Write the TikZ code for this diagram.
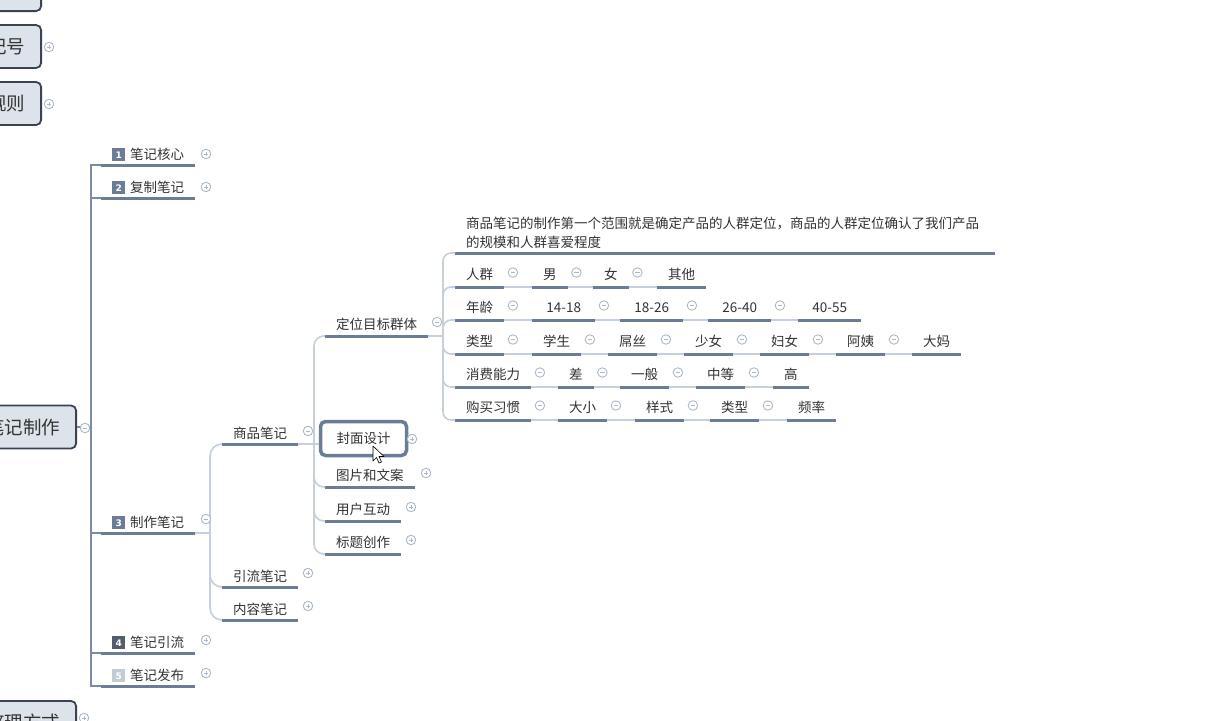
\documentclass[tikz,border=0pt]{standalone}
\usepackage{fontspec}
\setmainfont{Noto Sans CJK SC}
\newfontfamily\numfont{DejaVu Sans}
\usetikzlibrary{calc}

\definecolor{txt}{HTML}{333333}
\definecolor{ulinec}{HTML}{6B7D96}
\definecolor{connc}{HTML}{C6CFDB}
\definecolor{trunkc}{HTML}{7D8BA0}
\definecolor{knobc}{HTML}{AEB9C8}
\definecolor{boxfill}{HTML}{DDE3EA}
\definecolor{boxedge}{HTML}{3B4252}
\definecolor{badgeA}{HTML}{6B7D96}
\definecolor{badgeB}{HTML}{525E6E}
\definecolor{badgeC}{HTML}{C3CBD5}

% numbered square badge in front of a first-level topic
\newcommand\numbadge[2]{\raisebox{-1.5pt}{\setlength{\fboxsep}{0pt}\colorbox{#1}{\makebox[13pt][c]{\rule{0pt}{13pt}\raisebox{2.5pt}{\color{white}\numfont\fontsize{9}{9}\selectfont\bfseries #2}}}}}

\tikzset{
  x=1pt, y=-1pt,
  ulinestyle/.style={draw=ulinec, line width=3pt},
  topic/.style={font=\fontsize{13.5}{19}\selectfont, text=txt, inner xsep=11pt,
    inner ysep=4.5pt, text height=10pt, text depth=3pt, anchor=south west,
    append after command={(\tikzlastnode.south west) edge[ulinestyle] (\tikzlastnode.south east)}},
  upper/.style={topic, inner ysep=2pt},
  middle/.style={topic, inner ysep=3.5pt},
  numtopic/.style={topic, minimum width=63pt},
  note/.style={font=\fontsize{13.5}{19}\selectfont, text=txt, inner xsep=11pt,
    inner ysep=4pt, anchor=south west, text width=518pt, align=left,
    append after command={(\tikzlastnode.south west) edge[ulinestyle] (\tikzlastnode.south east)}},
  conn/.style={draw=connc, line width=1.6pt},
  trunkline/.style={draw=trunkc, line width=1.3pt},
  leftbox/.style={draw=boxedge, line width=1.8pt, fill=boxfill, rounded corners=5pt,
    font=\fontsize{18.5}{22}\selectfont, text=txt, inner xsep=16pt, minimum height=43pt, anchor=east},
  selbox/.style={draw=ulinec, line width=3.5pt, fill=white, rounded corners=5pt,
    font=\fontsize{13.5}{19}\selectfont, text=txt, minimum width=86pt, minimum height=34pt},
  knob/.style={circle, draw=knobc, fill=white, minimum size=9.5pt, inner sep=0pt, line width=0.9pt},
  knobminus/.style={knob, path picture={\draw[draw=knobc, line width=0.9pt]
    ([xshift=-2.4pt]path picture bounding box.center) -- ([xshift=2.4pt]path picture bounding box.center);}},
  knobplus/.style={knob, path picture={\draw[draw=knobc, line width=0.9pt]
    ([xshift=-2.4pt]path picture bounding box.center) -- ([xshift=2.4pt]path picture bounding box.center)
    ([yshift=-2.4pt]path picture bounding box.center) -- ([yshift=2.4pt]path picture bounding box.center);}},
}

\begin{document}
\begin{tikzpicture}
\useasboundingbox (0,0) rectangle (1230,720);
\clip (0,0) rectangle (1230,720);
\fill[white] (0,0) rectangle (1230,720);

% ---- boxes on the far left ----
\node[leftbox, anchor=south east, minimum width=90pt] (topbox) at (42,12) {};
\node[leftbox] (jh) at (42,46.5) {记号};
\node[leftbox] (gz) at (42,103.5) {规则};
\node[leftbox] (root) at (77,427) {笔记制作};
\node[leftbox] (zl) at (77,722.5) {整理方式};

% ---- first level ----
\node[upper] (c1) at (101,165) {\numbadge{badgeA}{1}\hspace{5pt}笔记核心};
\node[upper] (c2) at (101,198) {\numbadge{badgeA}{2}\hspace{5pt}复制笔记};
\node[upper] (c3) at (101,533) {\numbadge{badgeA}{3}\hspace{5pt}制作笔记};
\node[upper] (c4) at (101,653) {\numbadge{badgeB}{4}\hspace{5pt}笔记引流};
\node[upper] (c5) at (101,686) {\numbadge{badgeC}{5}\hspace{5pt}笔记发布};

\coordinate (t1) at (91,427);
\draw[trunkline] (root.east) -- (t1);
\foreach \n in {c1,c2,c3,c4,c5}
  \draw[trunkline] (t1) -- (t1 |- \n.south west) -- (\n.south west);

% ---- second level ----
\node[upper] (s1) at (222,444) {商品笔记};
\node[upper] (s2) at (222,587) {引流笔记};
\node[upper] (s3) at (222,620) {内容笔记};

\coordinate (t2) at (210,533);
\draw[conn] (c3.south east) -- (t2);
\foreach \n in {s1,s2,s3}
  \draw[conn, rounded corners=12pt] (t2) -- (t2 |- \n.south west) -- (\n.south west);

% ---- third level ----
\node[middle] (g1) at (325,336) {定位目标群体};
\node[selbox] (g2) at (363.5,438.5) {封面设计};
\node[middle] (g3) at (325,487) {图片和文案};
\node[middle] (g4) at (325,521) {用户互动};
\node[middle] (g5) at (325,554) {标题创作};

\coordinate (t3) at (314,444);
\draw[conn] (s1.south east) -- (t3);
\foreach \n in {g1,g3,g4,g5}
  \draw[conn, rounded corners=10pt] (t3) -- (t3 |- \n.south west) -- (\n.south west);
\draw[conn] (t3) -- (g2.west |- t3);

% ---- fourth level ----
\node[note] (d0) at (455,253) {商品笔记的制作第一个范围就是确定产品的人群定位，商品的人群定位确认了我们产品\\的规模和人群喜爱程度};

\node[topic] (a1) at (455,287) {人群};
\node[topic] (a2) at (532,287) {男};
\node[topic] (a3) at (593,287) {女};
\node[topic] (a4) at (657,287) {其他};

\node[topic] (b1) at (455,320) {年龄};
\node[numtopic] (b2) at (532,320) {14-18};
\node[numtopic] (b3) at (620,320) {18-26};
\node[numtopic] (b4) at (708,320) {26-40};
\node[numtopic] (b5) at (798,320) {40-55};

\node[topic] (e1) at (455,354) {类型};
\node[topic] (e2) at (532,354) {学生};
\node[topic] (e3) at (608,354) {屌丝};
\node[topic] (e4) at (684,354) {少女};
\node[topic] (e5) at (760,354) {妇女};
\node[topic] (e6) at (836,354) {阿姨};
\node[topic] (e7) at (912,354) {大妈};

\node[topic] (f1) at (455,387) {消费能力};
\node[topic] (f2) at (558,387) {差};
\node[topic] (f3) at (620,387) {一般};
\node[topic] (f4) at (696,387) {中等};
\node[topic] (f5) at (773,387) {高};

\node[topic] (h1) at (455,420) {购买习惯};
\node[topic] (h2) at (558,420) {大小};
\node[topic] (h3) at (635,420) {样式};
\node[topic] (h4) at (710,420) {类型};
\node[topic] (h5) at (787,420) {频率};

\coordinate (t4) at (443,336);
\draw[conn] (g1.south east) -- (t4);
\foreach \n in {d0,a1,b1,e1,f1,h1}
  \draw[conn, rounded corners=8pt] (t4) -- (t4 |- \n.south west) -- (\n.south west);

% links along each row, with a collapse knob after every item
\foreach \p/\q in {a1/a2,a2/a3,a3/a4,b1/b2,b2/b3,b3/b4,b4/b5,
                   e1/e2,e2/e3,e3/e4,e4/e5,e5/e6,e6/e7,
                   f1/f2,f2/f3,f3/f4,f4/f5,h1/h2,h2/h3,h3/h4,h4/h5}{
  \draw[conn, line width=1.3pt] (\p.south east) -- (\q.south west);
  \node[knobminus] (k\p) at ($(\p.south east)+(8.5,-14.5)$) {};
}

% ---- knobs of the tree ----
\node[knobplus] (kjh) at (49,47) {};
\node[knobplus] (kgz) at (49,104) {};
\node[knobminus] (kroot) at (85,428) {};
\node[knobplus] (kzl) at (84,718) {};
\node[knobplus] (kc1) at (206,154) {};
\node[knobplus] (kc2) at (206,187) {};
\node[knobminus] (kc3) at (206,519) {};
\node[knobplus] (kc4) at (206,640) {};
\node[knobplus] (kc5) at (206,673) {};
\node[knobminus] (ks1) at (308,431) {};
\node[knobplus] (ks2) at (308,573) {};
\node[knobplus] (ks3) at (308,606) {};
\node[knobminus] (kg1) at (437,322) {};
\node[knobplus] (kg2) at (412,439) {};
\node[knobplus] (kg3) at (426,473) {};
\node[knobplus] (kg4) at (411,507) {};
\node[knobplus] (kg5) at (411,540) {};

% mouse pointer
\draw[fill=white, draw=black, line width=0.6pt, line join=round]
  (373,446) -- (373,461) -- (376.5,457.5) -- (379,463) -- (381.5,462) -- (379,456.5) -- (384,456.5) -- cycle;
\end{tikzpicture}
\end{document}
